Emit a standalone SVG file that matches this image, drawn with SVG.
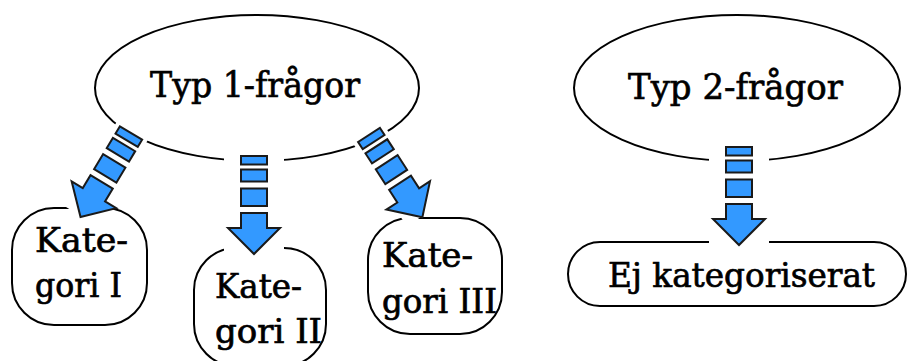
<svg xmlns="http://www.w3.org/2000/svg" xmlns:xlink="http://www.w3.org/1999/xlink" width="907" height="361" viewBox="0 0 907 361">
<style>
  .shape { fill: #ffffff; stroke: #000000; stroke-width: 2; }
  .lbl { font-family: "DejaVu Serif", "Liberation Serif", serif; fill: #000000; stroke: #000000; stroke-width: 0.7; }
  .big { font-size: 36px; }
  .mid { font-size: 33px; }
  .halo { fill: #ffffff; stroke: none; }
  .ar { fill: #3399ff; stroke: #1a1a1a; stroke-width: 2; stroke-linejoin: miter; }
</style>
<defs>
  <g id="arrow">
    <rect class="ar" x="-13" y="0" width="26" height="8.5"/>
    <rect class="ar" x="-13" y="13.5" width="26" height="12"/>
    <rect class="ar" x="-13" y="32.5" width="26" height="17.5"/>
    <path class="ar" d="M-13,57 H13 V72 H26 L0,98 L-26,72 H-13 Z"/>
  </g>
</defs>
<rect x="0" y="0" width="907" height="361" fill="#ffffff"/>

<g id="typ1">
  <ellipse class="shape" cx="257" cy="88" rx="162" ry="73"/>
  <text class="lbl big" x="150" y="97" textLength="210" lengthAdjust="spacingAndGlyphs">Typ 1-frågor</text>
</g>
<g id="typ2">
  <ellipse class="shape" cx="737" cy="88" rx="163" ry="73"/>
  <text class="lbl big" x="628" y="99" textLength="215" lengthAdjust="spacingAndGlyphs">Typ 2-frågor</text>
</g>
<g id="kat1">
  <rect class="shape" x="12" y="208" width="135" height="117" rx="42" ry="42"/>
  <text class="lbl mid" x="35" y="252" textLength="93" lengthAdjust="spacingAndGlyphs">Kate-</text>
  <text class="lbl mid" x="35" y="297" textLength="87" lengthAdjust="spacingAndGlyphs">gori I</text>
</g>
<g id="kat2">
  <rect class="shape" x="194" y="248" width="132" height="118" rx="42" ry="42"/>
  <text class="lbl mid" x="215" y="298" textLength="87" lengthAdjust="spacingAndGlyphs">Kate-</text>
  <text class="lbl mid" x="215" y="343" textLength="107" lengthAdjust="spacingAndGlyphs">gori II</text>
</g>
<g id="kat3">
  <rect class="shape" x="368" y="218" width="134" height="116" rx="42" ry="42"/>
  <text class="lbl mid" x="382" y="267" textLength="91" lengthAdjust="spacingAndGlyphs">Kate-</text>
  <text class="lbl mid" x="382" y="313" textLength="115" lengthAdjust="spacingAndGlyphs">gori III</text>
</g>
<g id="ej">
  <rect class="shape" x="568" y="242" width="338" height="64" rx="32" ry="32"/>
  <text class="lbl mid" x="608" y="287" textLength="267" lengthAdjust="spacingAndGlyphs">Ej kategoriserat</text>
</g>

<g id="connectors">
  <g transform="translate(131,133) rotate(31)">
    <rect class="halo" x="-18" y="-3" width="36" height="100"/>
    <use xlink:href="#arrow"/>
  </g>
  <g transform="translate(254,156)">
    <rect class="halo" x="-30" y="-6" width="60" height="104"/>
    <use xlink:href="#arrow"/>
  </g>
  <g transform="translate(369,135) rotate(-33)">
    <rect class="halo" x="-18" y="-3" width="36" height="100"/>
    <use xlink:href="#arrow"/>
  </g>
  <g transform="translate(739,147)">
    <rect class="halo" x="-30" y="-6" width="60" height="104"/>
    <use xlink:href="#arrow"/>
  </g>
</g>
</svg>
